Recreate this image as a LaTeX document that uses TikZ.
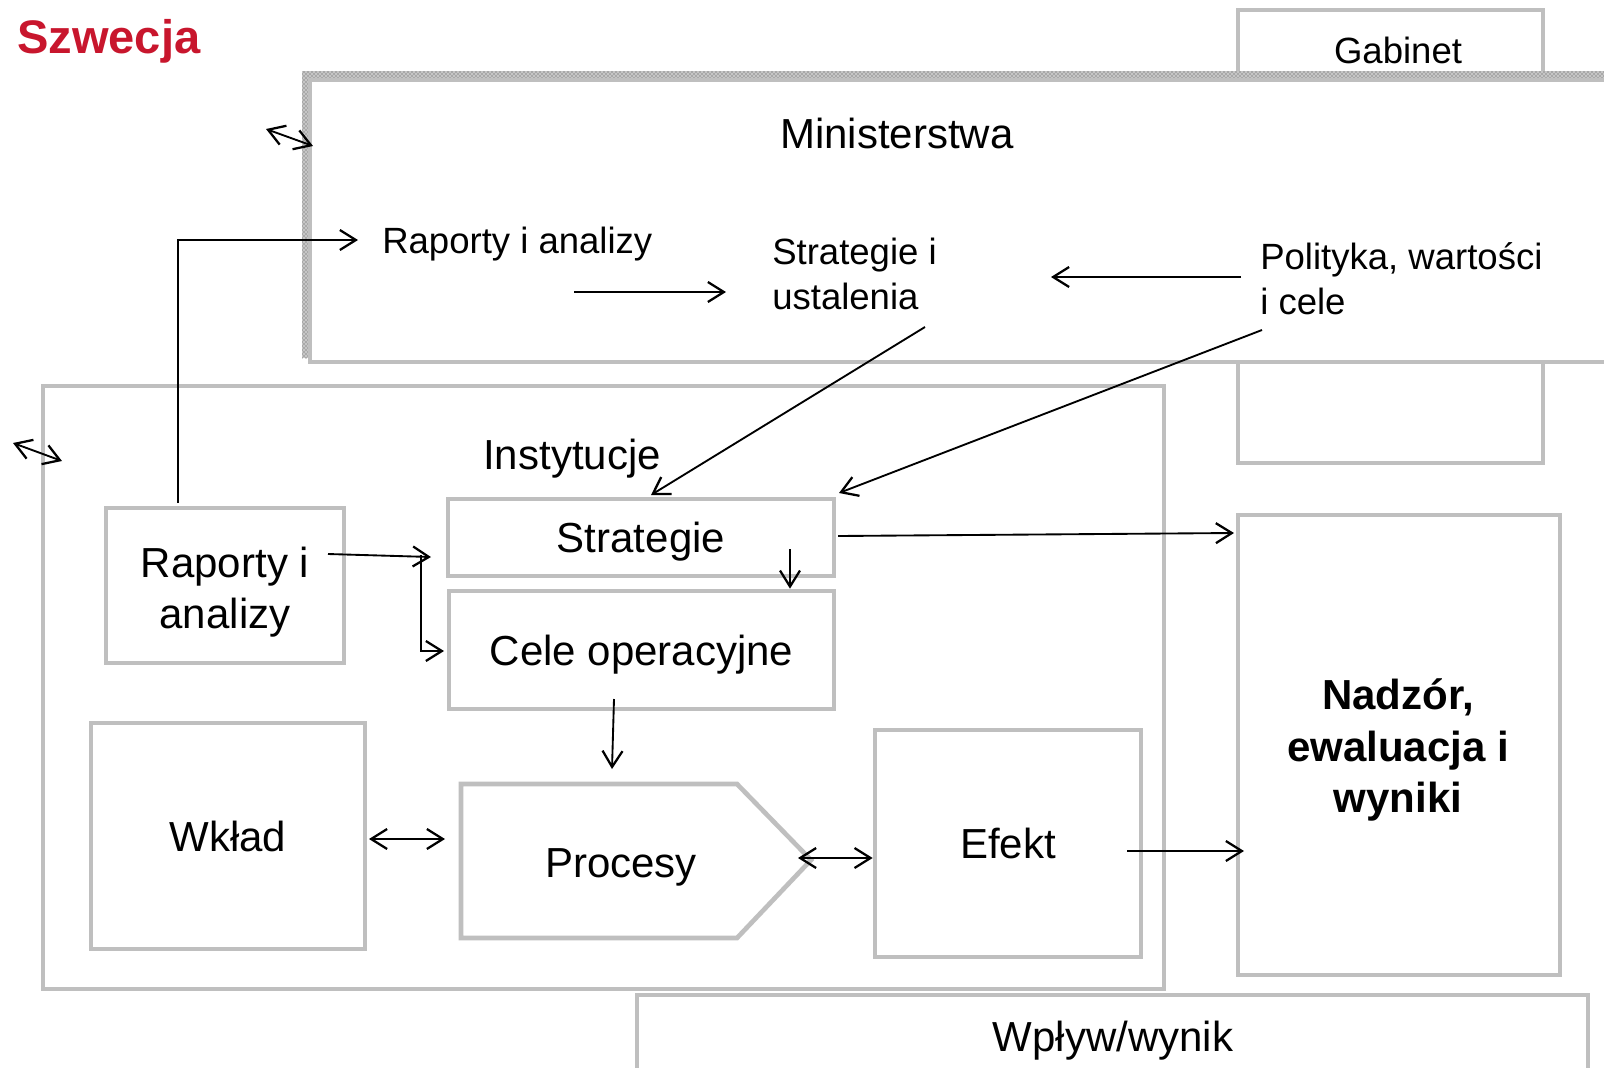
\documentclass[tikz,border=0pt]{standalone}
\usepackage{fontspec}
\setmainfont{Liberation Sans}
\usetikzlibrary{arrows.meta,patterns}
\definecolor{swered}{RGB}{200,22,45}
\definecolor{boxgray}{RGB}{191,191,191}

\tikzset{
  box/.style={draw=boxgray, line width=3.5pt, fill=white, inner sep=0pt},
  arr/.style={line width=1.4pt, -{Straight Barb[length=12pt,width=15pt,line width=1.7pt]}},
  darr/.style={line width=1.4pt, {Straight Barb[length=12pt,width=15pt,line width=1.7pt]}-{Straight Barb[length=12pt,width=15pt,line width=1.7pt]}},
  smalltxt/.style={font=\fontsize{27.4}{33.8}\selectfont, inner sep=0pt},
  bigtxt/.style={font=\fontsize{31.5}{38.3}\selectfont, inner sep=0pt},
  one/.style={text height=22.5pt, text depth=0pt},
}

\begin{document}
\begin{tikzpicture}[x=0.75pt,y=-0.75pt]
\useasboundingbox (0,0) rectangle (1604,1068);
\clip (0,0) rectangle (1604,1068);

\node[anchor=base west, inner sep=0pt, text=swered, font=\fontsize{35.3}{40}\selectfont\bfseries] (title) at (17,53) {Szwecja};

% Gabinet lies behind Ministerstwa
\node[box, minimum width=228.75pt, minimum height=339.75pt] (gabinet) at (1390.5,236.5) {};
\node[smalltxt, one] (gabtxt) at (1398,48) {Gabinet};

% Ministerstwa
\fill[gray!45] (302,71) rectangle (1700,358);
\fill[pattern=crosshatch dots, pattern color=black!70] (302,71) rectangle (1700,358);
\node[box, minimum width=1042.5pt, minimum height=211.5pt] (minist) at (1005,221) {};
\node[bigtxt, one] (mintxt) at (897,133) {Ministerstwa};
\node[smalltxt, anchor=base west] (raptop) at (382,253) {Raporty i analizy};
\node[smalltxt, anchor=west, align=left] (strtop) at (772,274) {Strategie i\\ustalenia};
\node[smalltxt, anchor=west, align=left] (polcel) at (1260,279) {Polityka, wartości\\i cele};

% Instytucje
\node[box, minimum width=840.75pt, minimum height=452.25pt] (inst) at (603.5,687.5) {};
\node[bigtxt, anchor=base] (insttxt) at (572,469) {Instytucje};
\node[box, minimum width=178.5pt, minimum height=116.25pt] (rapinst) at (225,585.5) {};
\node[bigtxt, align=center] (raptxt) at (225,592) {Raporty i\\analizy};
\node[box, bigtxt, one, minimum width=289.5pt, minimum height=57.75pt] (strat) at (641,537.5) {Strategie};
\node[box, bigtxt, one, minimum width=288.75pt, minimum height=88.5pt] (cele) at (641.5,650) {Cele operacyjne};
\node[box, bigtxt, one, minimum width=205.5pt, minimum height=169.5pt] (wklad) at (228,836) {Wkład};
\draw[box] (461,784) -- (737,784) -- (811,860) -- (737,938) -- (461,938) -- cycle;
\node[bigtxt, one] (procesy) at (621,862) {Procesy};
\node[box, bigtxt, one, minimum width=199.5pt, minimum height=170.25pt] (efekt) at (1008,843.5) {Efekt};

\node[box, minimum width=241.5pt, minimum height=345pt] (nadzor) at (1399,745) {};
\node[bigtxt, align=center, font=\fontsize{31.5}{38.3}\selectfont\bfseries] (nadtxt) at (1398,750) {Nadzór,\\ewaluacja i\\wyniki};
\node[box, minimum width=713.25pt, minimum height=93.75pt] (wplyw) at (1112.5,1057.5) {};
\node[bigtxt, one] (wpltxt) at (1113,1036) {Wpływ/wynik};

% free ends of the connectors
\coordinate (rapup) at (178,503);
\coordinate (rapend) at (358,240);
\coordinate (rs1) at (574,292);
\coordinate (rs2) at (726,292);
\coordinate (ps1) at (1241,277);
\coordinate (ps2) at (1051,277);
\coordinate (ss1) at (925,327);
\coordinate (ss2) at (651,495);
\coordinate (pc1) at (1262,330);
\coordinate (pc2) at (839,493);
\coordinate (rst1) at (328,554);
\coordinate (rst2) at (431,557);
\coordinate (rce1) at (421,555);
\coordinate (rce2) at (444,651);
\coordinate (sce) at (790,549);
\coordinate (cp1) at (614,699);
\coordinate (cp2) at (612,769);
\coordinate (wp) at (369,839);
\coordinate (pe) at (798,858);
\coordinate (en) at (1127,851);
\coordinate (sn1) at (838,536);
\coordinate (sn2) at (1234,533);
\coordinate (ma1) at (266,129);
\coordinate (ma2) at (313,146);
\coordinate (ia1) at (13,443);
\coordinate (ia2) at (62,461);

\draw[arr] (rapup) |- (rapend);
\draw[arr] (rs1) -- (rs2);
\draw[arr] (ps1) -- (ps2);
\draw[arr] (ss1) -- (ss2);
\draw[arr] (pc1) -- (pc2);
\draw[arr] (rst1) -- (rst2);
\draw[arr] (rce1) |- (rce2);
\draw[arr] (sce) -- (sce |- cele.north);
\draw[arr] (cp1) -- (cp2);
\draw[darr] (wp) -- (wp -| 445,0);
\draw[darr] (pe) -- (pe -| efekt.west);
\draw[arr] (en) -- (en -| 1244,0);
\draw[arr] (sn1) -- (sn2);
\draw[darr] (ma1) -- (ma2);
\draw[darr] (ia1) -- (ia2);
\end{tikzpicture}
\end{document}
